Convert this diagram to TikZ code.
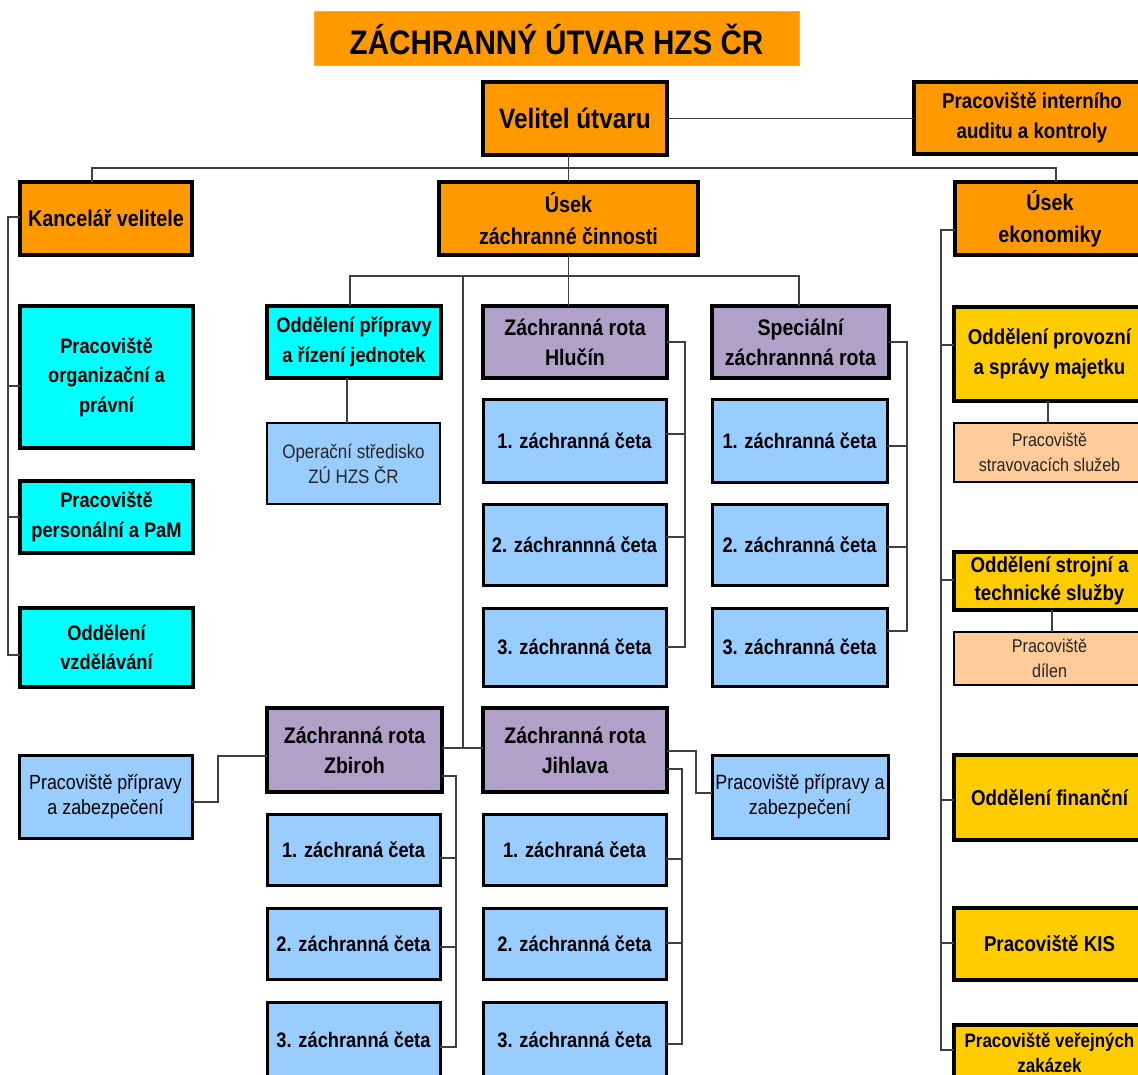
\documentclass[tikz,border=0pt]{standalone}
\usepackage{fontspec}
\setmainfont{Liberation Sans}[FakeStretch=0.87]
\definecolor{cOrange}{HTML}{FF9900}
\definecolor{cCyan}{HTML}{00FFFF}
\definecolor{cPurple}{HTML}{B1A0C7}
\definecolor{cBlue}{HTML}{99CCFF}
\definecolor{cGold}{HTML}{FFCC00}
\definecolor{cPeach}{HTML}{FFCC99}
\definecolor{cLine}{HTML}{404040}
\tikzset{
  box/.style={draw=black, inner sep=1pt, outer sep=0pt, align=center,
    font=\bfseries\fontsize{21}{29.5}\selectfont},
  heavy/.style={box, line width=4pt},
  medium/.style={box, line width=3pt},
  light/.style={box, line width=2.5pt, font=\fontsize{19}{25}\selectfont, text=black!85},
  purp/.style={heavy, fill=cPurple, font=\bfseries\fontsize{22.5}{30}\selectfont},
  con/.style={draw=cLine, line width=1.4pt},
}
\begin{document}
\begin{tikzpicture}[x=1pt,y=-1pt]
\useasboundingbox (0,0) rectangle (1138,1075);
% title
\node[fill=cOrange, draw=cOrange!80!white, line width=1pt, minimum width=485, minimum height=54, inner sep=0pt,
  font=\bfseries\fontsize{34}{38}\selectfont] (title) at (556.5,39) {ZÁCHRANNÝ ÚTVAR HZS ČR};
% top level
\node[heavy, fill=cOrange, minimum width=184, minimum height=73, font=\bfseries\fontsize{28}{30}\selectfont] (velitel) at (575,118.5) {Velitel útvaru};
\node[heavy, fill=cOrange, minimum width=236, minimum height=72, font=\bfseries\fontsize{21.5}{30}\selectfont] (audit) at (1032,118) {Pracoviště interního\\auditu a kontroly};
\node[heavy, fill=cOrange, minimum width=172, minimum height=73, font=\bfseries\fontsize{22.7}{30}\selectfont] (kancelar) at (106,218.5) {Kancelář velitele};
\node[heavy, fill=cOrange, minimum width=259, minimum height=73, font=\bfseries\fontsize{22.7}{32}\selectfont] (usekz) at (568.5,218.5) {Úsek\\záchranné činnosti};
\node[heavy, fill=cOrange, minimum width=190, minimum height=73, font=\bfseries\fontsize{22.7}{32}\selectfont] (useke) at (1050,218.5) {Úsek\\ekonomiky};
% left column
\node[heavy, fill=cCyan, minimum width=173, minimum height=142] (org) at (106.5,377) {Pracoviště\\organizační a\\právní};
\node[heavy, fill=cCyan, minimum width=173, minimum height=72] (pers) at (106.5,517) {Pracoviště\\personální a PaM};
\node[heavy, fill=cCyan, minimum width=173, minimum height=79] (vzdel) at (106.5,647.5) {Oddělení\\vzdělávání};
\node[medium, fill=cBlue, minimum width=173, minimum height=83, font=\fontsize{20.5}{25}\selectfont] (ppzL) at (105.5,796.5) {Pracoviště přípravy\\a zabezpečení};
% oddeleni pripravy
\node[heavy, fill=cCyan, minimum width=174, minimum height=72] (oddpr) at (354,342) {Oddělení přípravy\\a řízení jednotek};
\node[light, fill=cBlue, minimum width=173, minimum height=81, font=\fontsize{19.5}{25}\selectfont] (oper) at (353.5,463.5) {Operační středisko\\ZÚ HZS ČR};
% Hlucin
\node[purp, minimum width=184, minimum height=72] (hlucin) at (575,342) {Záchranná rota\\Hlučín};
\node[medium, fill=cBlue, minimum width=183, minimum height=83] (h1) at (574.5,440.5) {1. záchranná četa};
\node[medium, fill=cBlue, minimum width=183, minimum height=81] (h2) at (574.5,544.5) {2. záchrannná četa};
\node[medium, fill=cBlue, minimum width=183, minimum height=78] (h3) at (574.5,647) {3. záchranná četa};
% Specialni
\node[purp, minimum width=177, minimum height=72] (spec) at (800.5,342) {Speciální\\záchrannná rota};
\node[medium, fill=cBlue, minimum width=175, minimum height=83] (s1) at (799.5,440.5) {1. záchranná četa};
\node[medium, fill=cBlue, minimum width=175, minimum height=81] (s2) at (799.5,544.5) {2. záchranná četa};
\node[medium, fill=cBlue, minimum width=175, minimum height=78] (s3) at (799.5,647) {3. záchranná četa};
% Zbiroh
\node[purp, minimum width=175, minimum height=84] (zbiroh) at (354.5,750) {Záchranná rota\\Zbiroh};
\node[medium, fill=cBlue, minimum width=173, minimum height=71] (z1) at (353.5,849.5) {1. záchraná četa};
\node[medium, fill=cBlue, minimum width=173, minimum height=71] (z2) at (353.5,943.5) {2. záchranná četa};
\node[medium, fill=cBlue, minimum width=173, minimum height=76] (z3) at (353.5,1040) {3. záchranná četa};
% Jihlava
\node[purp, minimum width=184, minimum height=84] (jihlava) at (575,750) {Záchranná rota\\Jihlava};
\node[medium, fill=cBlue, minimum width=183, minimum height=71] (j1) at (574.5,849.5) {1. záchraná četa};
\node[medium, fill=cBlue, minimum width=183, minimum height=71] (j2) at (574.5,943.5) {2. záchranná četa};
\node[medium, fill=cBlue, minimum width=183, minimum height=76] (j3) at (574.5,1040) {3. záchranná četa};
\node[medium, fill=cBlue, minimum width=176, minimum height=83, font=\fontsize{20.7}{25}\selectfont] (ppzR) at (800,796.5) {Pracoviště přípravy a\\zabezpečení};
% economics
\node[heavy, fill=cGold, minimum width=191, minimum height=94, font=\bfseries\fontsize{21.5}{30}\selectfont] (provoz) at (1049.5,354) {Oddělení provozní\\a správy majetku};
\node[light, fill=cPeach, minimum width=191, minimum height=59, font=\fontsize{18.5}{25}\selectfont] (strav) at (1049.5,452.5) {Pracoviště\\stravovacích služeb};
\node[heavy, fill=cGold, minimum width=191, minimum height=58, font=\bfseries\fontsize{21.5}{28}\selectfont] (stroj) at (1049.5,581) {Oddělení strojní a\\technické služby};
\node[light, fill=cPeach, minimum width=191, minimum height=53, font=\fontsize{18.5}{25}\selectfont] (dilen) at (1049.5,658.5) {Pracoviště\\dílen};
\node[heavy, fill=cGold, minimum width=191, minimum height=85, font=\bfseries\fontsize{21.5}{30}\selectfont] (financ) at (1049.5,797.5) {Oddělení finanční};
\node[heavy, fill=cGold, minimum width=191, minimum height=72, font=\bfseries\fontsize{21.5}{30}\selectfont] (kis) at (1049.5,944) {Pracoviště KIS};
\node[heavy, fill=cGold, minimum width=191, minimum height=55, inner sep=0pt, font=\bfseries\fontsize{19.5}{25}\selectfont] (verej) at (1049.5,1052.5) {Pracoviště veřejných\\zakázek};
% connector coordinates
\coordinate (busL) at (92,168);
\coordinate (busR) at (1056,168);
\coordinate (zL) at (350,276);
\coordinate (zM) at (463,276);
\coordinate (zR) at (799,276);
\coordinate (lb) at (8,0);
\coordinate (hb) at (685,0);
\coordinate (sb) at (907,0);
\coordinate (eb) at (941,0);
\coordinate (zbb) at (456,0);
\coordinate (jb) at (682,0);
% connectors
\draw[con] (velitel.east) -- (velitel.east -| audit.west);
\draw[con] (usekz.north) -- (usekz.north |- velitel.south);
\draw[con] (kancelar.north -| busL) -- (busL) -- (busR) -- (useke.north -| busR);
\draw[con] (usekz.south) -- (usekz.south |- zL);
\draw[con] (oddpr.north -| zL) -- (zL) -- (zR) -- (spec.north -| zR);
\draw[con] (hlucin.north -| usekz.south) -- (usekz.south |- zL);
\draw[con] (zM) -- (463,748);
\draw[con] (zbiroh.east |- 0,748) -- (jihlava.west |- 0,748);
\draw[con] (oddpr.south -| 347,0) -- (oper.north -| 347,0);
% left bracket
\draw[con] (kancelar.west |- 0,217) -- (lb |- 0,217) -- (lb |- 0,655) -- (vzdel.west |- 0,655);
\draw[con] (lb |- 0,386) -- (org.west |- 0,386);
\draw[con] (lb |- 0,517) -- (pers.west |- 0,517);
% Hlucin bracket
\draw[con] (hlucin.east |- 0,342) -- (hb |- 0,342) -- (hb |- 0,647) -- (h3.east |- 0,647);
\draw[con] (hb |- 0,434) -- (h1.east |- 0,434);
\draw[con] (hb |- 0,537) -- (h2.east |- 0,537);
% Specialni bracket
\draw[con] (spec.east |- 0,342) -- (sb |- 0,342) -- (sb |- 0,631) -- (s3.east |- 0,631);
\draw[con] (sb |- 0,446) -- (s1.east |- 0,446);
\draw[con] (sb |- 0,547) -- (s2.east |- 0,547);
% economics bracket
\draw[con] (useke.west |- 0,230) -- (eb |- 0,230) -- (eb |- 0,1050) -- (verej.west |- 0,1050);
\draw[con] (eb |- 0,345) -- (provoz.west |- 0,345);
\draw[con] (eb |- 0,580) -- (stroj.west |- 0,580);
\draw[con] (eb |- 0,800) -- (financ.west |- 0,800);
\draw[con] (eb |- 0,943) -- (kis.west |- 0,943);
\draw[con] (provoz.south -| 1048,0) -- (strav.north -| 1048,0);
\draw[con] (stroj.south -| 1052,0) -- (dilen.north -| 1052,0);
% Zbiroh
\draw[con] (ppzL.east |- 0,802) -- (218,802) -- (218,756) -- (zbiroh.west |- 0,756);
\draw[con] (zbiroh.east |- 0,776) -- (zbb |- 0,776) -- (zbb |- 0,1047) -- (z3.east |- 0,1047);
\draw[con] (zbb |- 0,858) -- (z1.east |- 0,858);
\draw[con] (zbb |- 0,947) -- (z2.east |- 0,947);
% Jihlava
\draw[con] (jihlava.east |- 0,751) -- (696,751) -- (696,793) -- (ppzR.west |- 0,793);
\draw[con] (jihlava.east |- 0,769) -- (jb |- 0,769) -- (jb |- 0,1044) -- (j3.east |- 0,1044);
\draw[con] (jb |- 0,859) -- (j1.east |- 0,859);
\draw[con] (jb |- 0,943) -- (j2.east |- 0,943);
\end{tikzpicture}
\end{document}
